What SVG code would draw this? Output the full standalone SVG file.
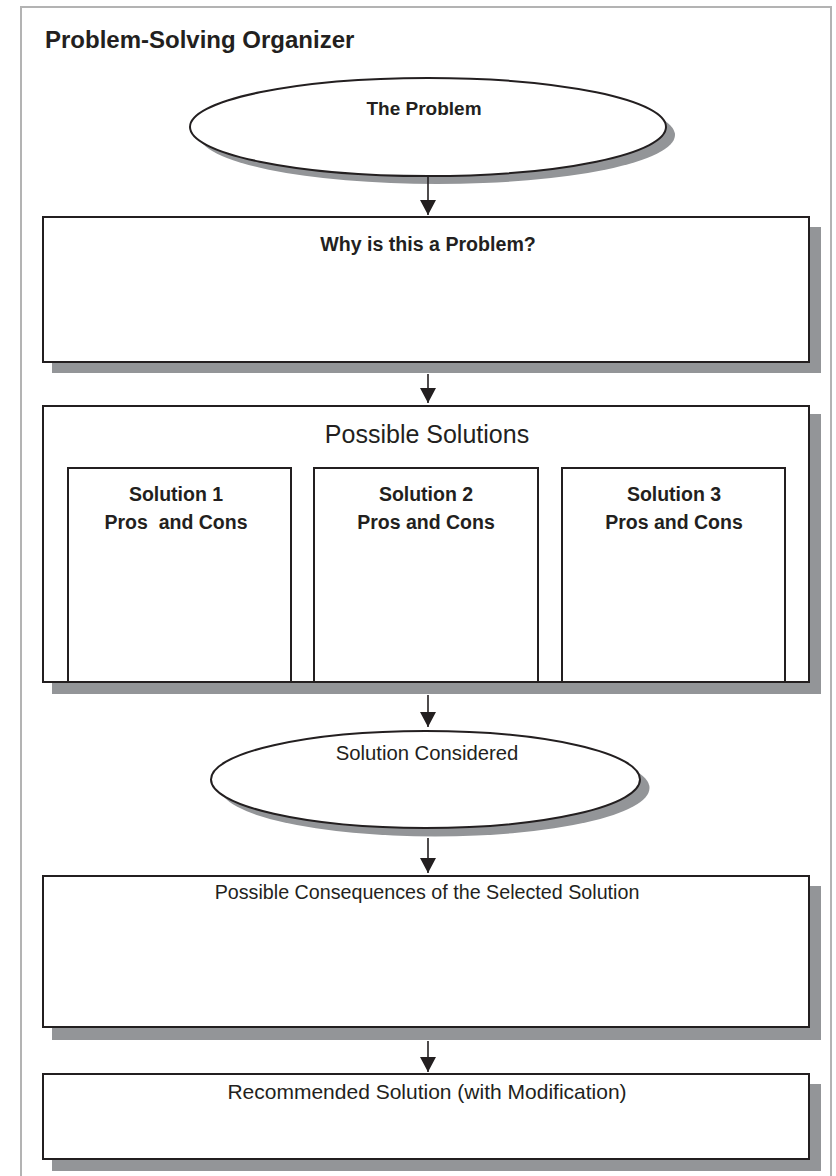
<svg xmlns="http://www.w3.org/2000/svg" width="836" height="1176" viewBox="0 0 836 1176">
  <style>
    .box { fill: #ffffff; stroke: #231f20; stroke-width: 2; }
    .shadow { fill: #939598; stroke: none; }
    .frame { fill: none; stroke: #b3b3b3; stroke-width: 2; }
    .bold { font-family: "Liberation Sans", Arial, sans-serif; font-weight: bold; fill: #231f20; text-anchor: middle; }
    .reg { font-family: "Liberation Sans", Arial, sans-serif; font-weight: normal; fill: #231f20; text-anchor: middle; }
    .conn line { stroke: #231f20; stroke-width: 1.6; }
  </style>
  <defs>
    <marker id="arrow" viewBox="0 0 16 17" refX="16" refY="8.5" markerWidth="17" markerHeight="16" markerUnits="userSpaceOnUse" orient="auto">
      <path d="M0,0 L16,8.5 L0,17 Z" fill="#231f20"/>
    </marker>
  </defs>

  <rect class="frame" x="21" y="7" width="810" height="1185"/>
  <text id="title" x="45" y="48" font-family="Liberation Sans, Arial, sans-serif" font-weight="bold" font-size="24" fill="#231f20">Problem-Solving Organizer</text>

  <g id="the-problem">
    <ellipse class="shadow" cx="437" cy="135" rx="238" ry="49"/>
    <ellipse class="box" cx="428" cy="127" rx="238" ry="49"/>
    <text class="bold" x="424" y="115" font-size="19">The Problem</text>
  </g>

  <g id="why-problem">
    <rect class="shadow" x="52" y="227" width="769" height="146"/>
    <rect class="box" x="43" y="217" width="766" height="145"/>
    <text class="bold" x="428" y="251" font-size="19.6">Why is this a Problem?</text>
  </g>

  <g id="possible-solutions">
    <rect class="shadow" x="52" y="414" width="769" height="280"/>
    <rect class="box" x="43" y="406" width="766" height="276"/>
    <text class="reg" x="427" y="443" font-size="25">Possible Solutions</text>
    <g id="solution-1">
      <rect class="box" x="68" y="468" width="223" height="214"/>
      <text class="bold" x="176" y="501" font-size="19.5">Solution 1</text>
      <text class="bold" x="176" y="529" font-size="19.5" xml:space="preserve">Pros  and Cons</text>
    </g>
    <g id="solution-2">
      <rect class="box" x="314" y="468" width="224" height="214"/>
      <text class="bold" x="426" y="501" font-size="19.5">Solution 2</text>
      <text class="bold" x="426" y="529" font-size="19.5">Pros and Cons</text>
    </g>
    <g id="solution-3">
      <rect class="box" x="562" y="468" width="223" height="214"/>
      <text class="bold" x="674" y="501" font-size="19.5">Solution 3</text>
      <text class="bold" x="674" y="529" font-size="19.5">Pros and Cons</text>
    </g>
  </g>

  <g id="solution-considered">
    <ellipse class="shadow" cx="435" cy="788" rx="214.5" ry="48.5"/>
    <ellipse class="box" cx="425.5" cy="779.5" rx="214.5" ry="48.5"/>
    <text class="reg" x="427" y="760" font-size="20.3">Solution Considered</text>
  </g>

  <g id="consequences">
    <rect class="shadow" x="52" y="886" width="769" height="154"/>
    <rect class="box" x="43" y="876" width="766" height="151"/>
    <text class="reg" x="427" y="899" font-size="19.7">Possible Consequences of the Selected Solution</text>
  </g>

  <g id="recommended">
    <rect class="shadow" x="52" y="1084" width="769" height="87"/>
    <rect class="box" x="43" y="1074" width="766" height="85"/>
    <text class="reg" x="427" y="1099" font-size="21">Recommended Solution (with Modification)</text>
  </g>

  <g id="connectors" class="conn">
    <line x1="428" y1="177" x2="428" y2="215" marker-end="url(#arrow)"/>
    <line x1="428" y1="374" x2="428" y2="403" marker-end="url(#arrow)"/>
    <line x1="428" y1="695" x2="428" y2="727" marker-end="url(#arrow)"/>
    <line x1="428" y1="838" x2="428" y2="873" marker-end="url(#arrow)"/>
    <line x1="428" y1="1041" x2="428" y2="1072" marker-end="url(#arrow)"/>
  </g>
</svg>
